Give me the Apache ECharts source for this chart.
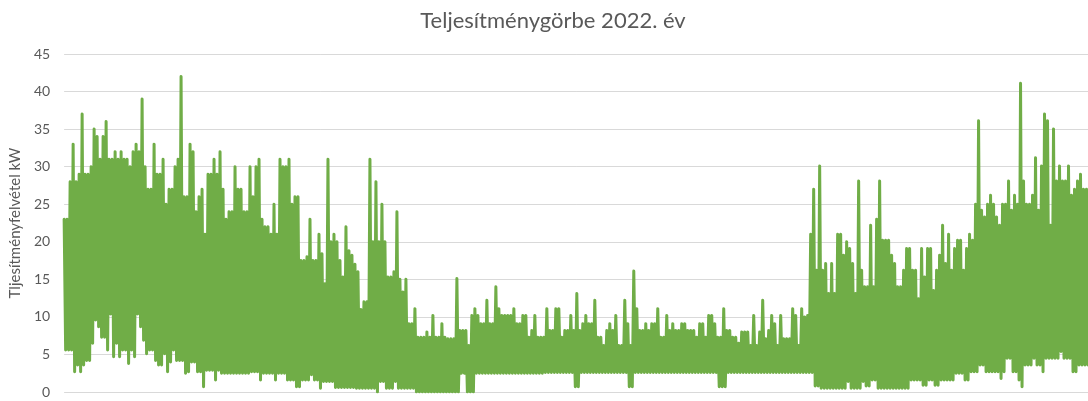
<!DOCTYPE html>
<html>
<head>
<meta charset="utf-8">
<script src="https://cdn.jsdelivr.net/npm/echarts@6/dist/echarts.min.js"></script>
<style>
html,body{margin:0;padding:0;background:#ffffff;}
#chart{width:1088px;height:401px;}
</style>
</head>
<body>
<div id="chart"></div>
<script>
const chartTitle = 'Teljesítménygörbe 2022. év';
const yAxisName = 'Tljesítményfelvétel kW';
const yMin = 0, yMax = 45, yStep = 5;

// Per-period peak values (kW), read left to right across the year
const periodHigh = [
  23, 23, 28, 33, 28, 29, 37, 29, 29, 30,
  35, 34, 31, 34, 36, 31, 31, 32, 31, 32,
  31, 31, 30, 32, 33, 32, 39, 30, 27, 27,
  33, 29, 29, 31, 25, 27, 27, 30, 31, 42,
  26, 26, 33, 32, 24, 26, 27, 21, 29, 29,
  31, 29, 32, 27, 23, 24, 24,
  30, 27, 27,
  24, 24, 30, 26, 30, 31, 23, 22, 22, 21,
  25, 21, 31, 30, 30, 31, 25, 26, 26, 17.5,
  17.5, 18, 23, 17.5, 17.5, 21, 18.4, 14.4, 31, 20,
  21, 20, 17.5, 15.3, 22, 18.8, 18.2, 17, 16, 11,
  12, 12, 31, 20, 28, 20, 25, 20, 15.3, 15.3,
  16, 24, 15, 13.3, 15, 9.1, 9.1, 11.1, 7.3, 7.3,
  7.3, 8, 7.3, 10.2, 7.3, 7.3, 9.1, 7.3, 7.1, 7.1,
  7.1, 15.1, 8.2, 8.2, 8.2, 6.2, 10.2, 11.1, 10.2, 9.1,
  9.1, 12.2, 9.1, 9.1, 14, 11.1, 10.2, 10.2, 10.2, 10.2,
  11.1, 9.1, 9.1, 10.2, 10.2, 7.3, 8.2, 10.2, 7.3, 7.3,
  7.3, 11.1, 8.2, 8.2, 11.1, 11.1, 7.3, 8.2, 8.2, 10.2,
  8.2, 13.1, 8.2, 9.1, 10.2, 9.1, 9.1, 12.2, 7.3, 7.3,
  6.2, 8.2, 9.1, 8.2, 10.2, 6.2, 6.2, 12.2, 9.1, 6.2,
  16.1, 11.1, 8.2, 8.2, 9.1, 8.2, 9.1, 9.1, 11.1, 7.3,
  7.3, 10.2, 8.2, 9.1, 8.2, 8.2, 9.1, 9.1, 8.2, 8.2,
  8.2, 7.3, 9.1, 9.1, 7.3, 10.2, 10.2, 9.1, 7.3, 7.3,
  11.1, 8.2, 8.2, 7.3, 7.3, 6.5, 8, 8, 8, 6.2,
  10.2, 6.2, 8, 12.2, 7.1, 8.2, 10.2, 9.1, 6.2, 10.2,
  7.1, 7.1, 7.1, 11.1, 10.2, 6.2, 11.1, 10, 10.2, 21,
  27, 16.2, 30.1, 16.2, 17.1, 13.1, 17.1, 13.1, 21, 21,
  18.2, 20, 19.1, 17.1, 13.1, 28.1, 16.2, 14, 14, 22.2,
  14, 23, 28.1, 20.2, 20.2, 20.2, 18.2, 17.1, 14, 14,
  16.2, 19.1, 19.1, 16.2, 16.2, 12.4, 19.1, 15.3, 19.1, 19.1,
  13.5, 16.2, 18.2, 22.2, 17.1, 21, 16.2, 19.1, 20.2, 20.2,
  16.2, 19.1, 21, 20.2, 25, 36.1, 24.2, 23.3, 25, 26.2,
  25, 23.3, 22.2, 25, 25, 28.1, 24.2, 26.2, 25, 41.1,
  28.1, 25, 25, 26.2, 31.2, 24.2, 30.1, 37, 36.1, 22.2,
  35, 28.1, 30.1, 28.1, 28.1, 30.1, 26.2, 27, 28.1, 29,
  27, 27
];

// Per-period minimum values (kW), same periods as above
const periodLow = [
  5.6, 5.6, 5.6, 2.7, 3.6, 2.7, 3.6, 4.2, 4.2, 6.5,
  9.6, 8.7, 7.3, 7.3, 5.6, 10.4, 4.7, 6.5, 4.7, 5.6,
  5.6, 3.8, 5.6, 4.7, 10.4, 8.7, 6.9, 5.1, 5.6, 5.6,
  4.2, 3.6, 3.6, 5.1, 2.7, 4.0, 5.6, 4.2, 4.2, 4.2,
  2.5, 2.7, 4.0, 4.0, 2.7, 2.7, 0.7, 2.9, 2.9, 2.9,
  1.6, 2.9, 2.5, 2.5, 2.5, 2.5, 2.5,
  2.5, 2.5, 2.5,
  2.5, 2.5, 2.7, 2.7, 2.7, 1.6, 2.5, 2.5, 2.5, 2.5,
  1.6, 2.5, 2.5, 2.5, 1.6, 1.6, 1.6, 0.7, 0.7, 1.6,
  1.6, 1.6, 2.3, 1.6, 1.6, 0.5, 1.4, 1.4, 1.4, 1.4,
  0.6, 0.6, 0.6, 0.6, 0.6, 0.6, 0.6, 0.5, 0.5, 0.5,
  0.5, 0.5, 0.5, 0.5, 0, 1.4, 1.4, 0.5, 0.5, 0.5,
  1.4, 0.5, 0.5, 0.5, 0.5, 0.5, 0.5, 0, 0, 0,
  0, 0, 0, 0, 0, 0, 0, 0, 0, 0,
  0, 0, 2.5, 2.5, 0, 0, 0, 2.5, 2.5, 2.5,
  2.5, 2.5, 2.5, 2.5, 2.5, 2.5, 2.5, 2.5, 2.5, 2.5,
  2.5, 2.5, 2.5, 2.5, 2.5, 2.5, 2.5, 2.5, 2.5, 2.5,
  2.6, 2.6, 2.6, 2.6, 2.6, 2.6, 2.6, 2.6, 2.6, 2.6,
  0.7, 0.7, 2.6, 2.6, 2.6, 2.6, 2.6, 2.6, 2.6, 2.6,
  2.6, 2.6, 2.6, 2.6, 2.6, 2.6, 2.6, 2.6, 0.7, 0.7,
  2.6, 2.6, 2.6, 2.6, 2.6, 2.6, 2.6, 2.6, 2.6, 2.6,
  2.6, 2.6, 2.6, 2.6, 2.6, 2.6, 2.6, 2.6, 2.6, 2.6,
  2.6, 2.6, 2.6, 2.6, 2.6, 2.6, 2.6, 2.6, 0.7, 0.7,
  0.7, 2.6, 2.6, 2.6, 2.6, 2.6, 2.6, 2.6, 2.6, 2.6,
  2.6, 2.6, 2.6, 2.6, 2.6, 2.6, 2.6, 2.6, 2.6, 2.6,
  2.6, 2.6, 2.6, 2.6, 2.6, 2.6, 2.6, 2.6, 2.6, 2.6,
  0.8, 0.8, 0.5, 0.5, 0.5, 0.5, 0.5, 0.5, 0.5, 0.5,
  0.5, 1.4, 0.5, 0.5, 0.5, 0.5, 1.4, 0.8, 0.8, 1.6,
  1.6, 0.5, 0.5, 0.5, 0.5, 0.5, 0.5, 0.5, 0.5, 0.5,
  0.5, 0.5, 1.6, 1.6, 1.6, 1.6, 0.9, 0.9, 1.6, 1.6,
  0.9, 0.9, 1.6, 1.6, 1.6, 1.6, 1.6, 2.5, 2.5, 2.5,
  1.6, 1.6, 2.7, 2.7, 2.7, 3.6, 3.6, 2.7, 2.7, 2.7,
  2.7, 2.7, 1.8, 2.7, 4.5, 4.5, 2.7, 2.7, 1.6, 0.7,
  3.6, 3.6, 3.6, 4.5, 3.6, 3.6, 2.7, 4.5, 4.5, 4.5,
  4.5, 4.5, 5.4, 4.5, 4.5, 4.5, 2.7, 2.7, 3.6, 3.6,
  3.6, 3.6
];

// Build the alternating peak/low sequence the library draws as one line
const seriesValues = [];
const categories = [];
for (let i = 0; i < periodHigh.length; i++) {
  seriesValues.push(periodHigh[i], periodLow[i]);
  categories.push(String(2 * i), String(2 * i + 1));
}

const textColor = '#595959';
const fontFam = 'Lato, "Open Sans", sans-serif';

const chart = echarts.init(document.getElementById('chart'), null, {renderer: 'canvas'});
chart.setOption({
  animation: false,
  backgroundColor: '#ffffff',
  title: {
    text: chartTitle,
    left: 548,
    top: 5,
    textAlign: 'center',
    textStyle: {color: textColor, fontSize: 22, fontWeight: 'normal', fontFamily: fontFam}
  },
  grid: {left: 64, right: 0, top: 54, bottom: 9, containLabel: false},
  xAxis: {
    type: 'category',
    data: categories,
    boundaryGap: false,
    axisLine: {show: false},
    axisTick: {show: false},
    axisLabel: {show: false},
    splitLine: {show: false}
  },
  yAxis: {
    type: 'value',
    min: yMin,
    max: yMax,
    interval: yStep,
    name: yAxisName,
    nameLocation: 'middle',
    nameGap: 37,
    nameRotate: 90,
    nameTextStyle: {color: textColor, fontSize: 15, fontFamily: fontFam},
    axisLine: {show: false},
    axisTick: {show: false},
    axisLabel: {color: textColor, fontSize: 14, fontFamily: fontFam, margin: 14},
    splitLine: {lineStyle: {color: '#D9D9D9', width: 1}}
  },
  series: [{
    type: 'line',
    data: seriesValues,
    symbol: 'none',
    showSymbol: false,
    sampling: null,
    smooth: false,
    lineStyle: {color: '#70AD47', width: 3, cap: 'round', join: 'round'},
    itemStyle: {color: '#70AD47'},
    emphasis: {disabled: true},
    silent: true
  }]
});
</script>
</body>
</html>
